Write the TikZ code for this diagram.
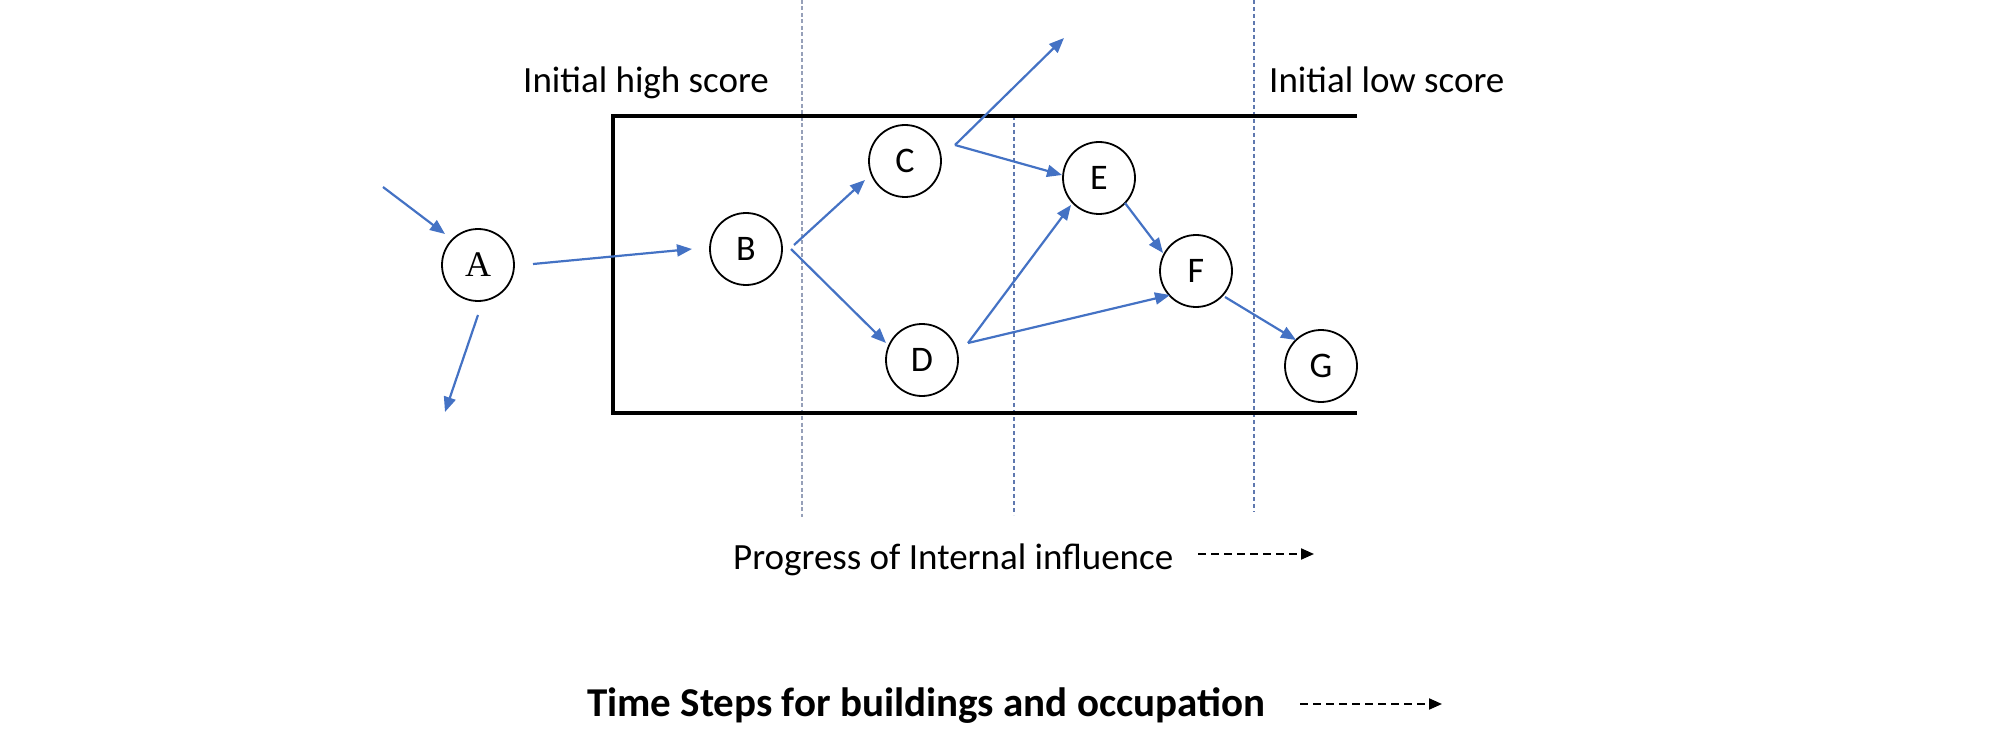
\documentclass[tikz,border=0pt]{standalone}
\usepackage{fontspec}
\setmainfont{Carlito}
\newfontfamily\serifA{Liberation Serif}
\usetikzlibrary{arrows.meta,calc}
\definecolor{flowblue}{RGB}{68,114,196}
\definecolor{guideA}{RGB}{150,160,185}
\definecolor{guideB}{RGB}{95,120,175}
\begin{document}
\begin{tikzpicture}[x=1pt,y=-1pt,
  state/.style={circle,draw=black,line width=1.8pt,minimum size=72pt,inner sep=0pt,font=\fontsize{36}{43}\selectfont},
  flow/.style={draw=flowblue,line width=2.2pt,-{Triangle[length=15pt,width=12pt,fill=flowblue]}},
  boxline/.style={draw=black,line width=3.5pt,line cap=rect},
  guidefirst/.style={draw=guideA,line width=2pt,dash pattern=on 4pt off 2.5pt},
  guideother/.style={draw=guideB,line width=1.2pt,dash pattern=on 4pt off 3pt},
  label/.style={anchor=base west,inner sep=0pt,font=\fontsize{37}{44}\selectfont},
  boldlabel/.style={anchor=base west,inner sep=0pt,font=\fontsize{41}{49}\selectfont\bfseries},
  timearrow/.style={draw=black,line width=2pt,dash pattern=on 8pt off 5pt,-{Triangle[length=13pt,width=11pt]}}
]
\useasboundingbox (0,0) rectangle (2000,746);

% guide lines
\draw[guidefirst] (802,0) -- (802,517);
\draw[guideother] (1014,116) -- (1014,515);
\draw[guideother] (1254,0) -- (1254,512);

% box
\coordinate (tr) at (1355,116);
\coordinate (tl) at (613,116);
\coordinate (bl) at (613,413);
\coordinate (br) at (1355,413);
\draw[boxline] (tr) -- (tl) -- (bl) -- (br);

% labels
\node[label] (high) at (523,93) {Initial high score};
\node[label] (low) at (1269,93) {Initial low score};
\node[label] (prog) at (733,569) {Progress of Internal influence};
\node[boldlabel] (time) at (587,716) {Time Steps for buildings and occupation};

% states
\node[state] (A) at (478,265) {\serifA A};
\node[state] (B) at (746,249) {B};
\node[state] (C) at (905,161) {C};
\node[state] (D) at (922,360) {D};
\node[state] (E) at (1099,178) {E};
\node[state] (F) at (1196,271) {F};
\node[state] (G) at (1321,366) {G};

% free ends
\coordinate (a0) at (383,187);
\coordinate (a1) at (445,412);
\coordinate (c1) at (1064,38);

% connectors
\draw[flow] (a0) -- ($(A)+(-33,-31)$);
\draw[flow] ($(A)+(0,50)$) -- (a1);
\draw[flow] ($(A)+(55,-1)$) -- ($(B)+(-54,0)$);
\draw[flow] ($(B)+(48,-4)$) -- ($(C)+(-40,19)$);
\draw[flow] ($(B)+(45,0)$) -- ($(D)+(-36,-17)$);
\draw[flow] ($(C)+(50,-16)$) -- (c1);
\draw[flow] ($(C)+(50,-16)$) -- ($(E)+(-37,-3)$);
\draw[flow] ($(D)+(46,-17)$) -- ($(E)+(-28,27)$);
\draw[flow] ($(D)+(46,-17)$) -- ($(F)+(-26,24)$);
\draw[flow] ($(E)+(26,25)$) -- ($(F)+(-33,-18)$);
\draw[flow] ($(F)+(29,26)$) -- ($(G)+(-25,-26)$);

% time arrows
\coordinate (p0) at (1198,554);
\coordinate (p1) at (1314,554);
\draw[timearrow] (p0) -- (p1);
\coordinate (t0) at (1300,704);
\coordinate (t1) at (1442,704);
\draw[timearrow] (t0) -- (t1);
\end{tikzpicture}
\end{document}
